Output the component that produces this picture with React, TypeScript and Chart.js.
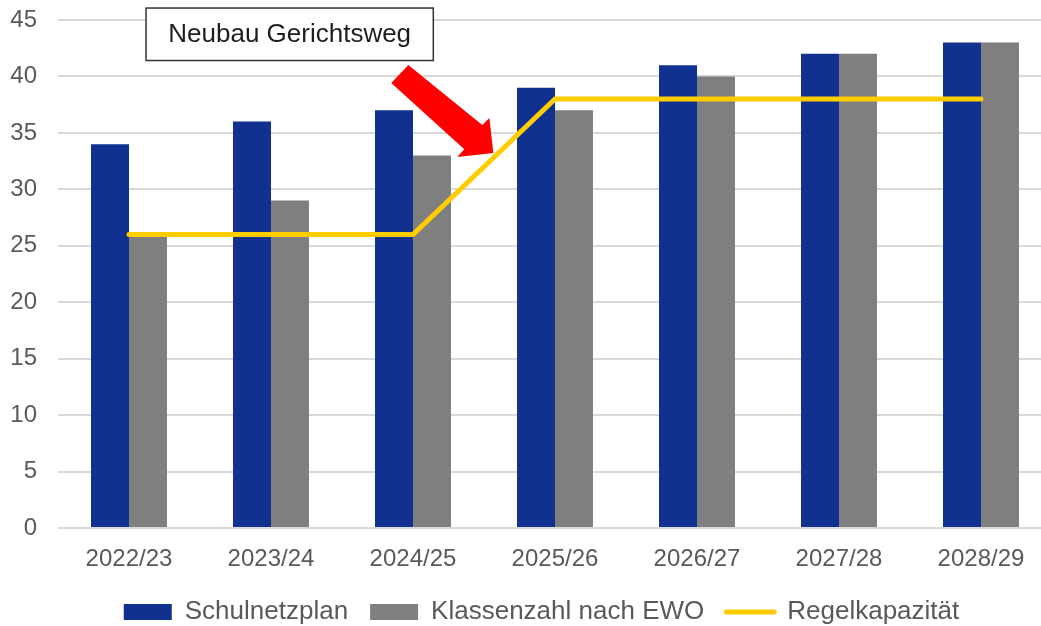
import React, { useEffect, useRef } from "react";
import { Chart, registerables } from "chart.js";

Chart.register(...registerables);

const categories = ["2022/23", "2023/24", "2024/25", "2025/26", "2026/27", "2027/28", "2028/29"];
const schulnetzplan = [34, 36, 37, 39, 41, 42, 43];
const klassenzahlEWO = [26, 29, 33, 37, 40, 42, 43];
const regelkapazitaet = [26, 26, 26, 38, 38, 38, 38];
const seriesNames = ["Schulnetzplan", "Klassenzahl nach EWO", "Regelkapazität"];
const yMin = 0;
const yMax = 45;
const yStep = 5;

const annotationText = "Neubau Gerichtsweg";
// annotation geometry in data space (category index, value)
const annotationBox = { x0: 0.12, x1: 2.143, yTop: 46.06, yBottom: 41.41 };
const arrowPoints: [number, number][] = [
  [1.967, 41.01],
  [2.488, 35.7],
  [2.538, 36.32],
  [2.566, 33.22],
  [2.312, 32.87],
  [2.361, 33.56],
  [1.847, 39.42],
];

const BLUE = "#10318F";
const GRAY = "#7F7F7F";
const YELLOW = "#FFCC00";
const TEXT = "#595959";
const GRID = "#D9D9D9";
const FONT = "'Liberation Sans', Arial, sans-serif";
const LEGEND_LEFT = 31;

const annotationPlugin = {
  id: "annotationPlugin",
  afterLayout(chart: any) {
    if (chart.legend) chart.legend.left = LEGEND_LEFT;
  },
  afterDraw(chart: any) {
    const ctx = chart.ctx;
    const xs = chart.scales.x;
    const ys = chart.scales.y;
    ctx.save();
    // arrow
    ctx.beginPath();
    arrowPoints.forEach(([i, v], k) => {
      const px = xs.getPixelForValue(i);
      const py = ys.getPixelForValue(v);
      if (k === 0) ctx.moveTo(px, py);
      else ctx.lineTo(px, py);
    });
    ctx.closePath();
    ctx.fillStyle = "#FF0000";
    ctx.fill();
    // box
    const l = xs.getPixelForValue(annotationBox.x0);
    const r = xs.getPixelForValue(annotationBox.x1);
    const t = ys.getPixelForValue(annotationBox.yTop);
    const b = ys.getPixelForValue(annotationBox.yBottom);
    ctx.fillStyle = "#FFFFFF";
    ctx.fillRect(l, t, r - l, b - t);
    ctx.strokeStyle = "#333333";
    ctx.lineWidth = 1.5;
    ctx.strokeRect(l, t, r - l, b - t);
    ctx.fillStyle = "#1E1E1E";
    ctx.font = `26px ${FONT}`;
    ctx.textAlign = "center";
    ctx.textBaseline = "middle";
    ctx.fillText(annotationText, (l + r) / 2, (t + b) / 2 + 1);
    ctx.restore();
  },
};

export default function App() {
  const canvasRef = useRef<HTMLCanvasElement | null>(null);

  useEffect(() => {
    if (!canvasRef.current) return;
    Chart.defaults.font.family = FONT;
    const chart = new Chart(canvasRef.current, {
      type: "bar",
      data: {
        labels: categories,
        datasets: [
          {
            type: "bar",
            label: seriesNames[0],
            data: schulnetzplan,
            backgroundColor: BLUE,
            borderWidth: 0,
            categoryPercentage: 0.535,
            barPercentage: 1.0,
            order: 1,
          },
          {
            type: "bar",
            label: seriesNames[1],
            data: klassenzahlEWO,
            backgroundColor: GRAY,
            borderWidth: 0,
            categoryPercentage: 0.535,
            barPercentage: 1.0,
            order: 1,
          },
          {
            type: "line",
            label: seriesNames[2],
            data: regelkapazitaet,
            borderColor: YELLOW,
            backgroundColor: YELLOW,
            borderWidth: 5,
            pointRadius: 0,
            tension: 0,
            borderCapStyle: "round",
            fill: false,
            order: 0,
          } as any,
        ],
      },
      options: {
        responsive: false,
        animation: false,
        devicePixelRatio: 1,
        layout: { padding: { left: 0, top: 20, right: 0, bottom: 0 } },
        scales: {
          x: {
            grid: { display: false, drawTicks: false },
            border: { display: false },
            ticks: { color: TEXT, font: { size: 24 }, padding: 17, maxRotation: 0 },
            afterFit: (s: any) => {
              s.height = 49;
            },
          },
          y: {
            min: yMin,
            max: yMax,
            grid: { color: GRID, lineWidth: 2, drawTicks: true, tickLength: 21, tickColor: "rgba(0,0,0,0)" },
            border: { display: false },
            ticks: { stepSize: yStep, color: TEXT, font: { size: 24 }, padding: 0 },
            afterFit: (s: any) => {
              s.width = 58;
            },
          },
        },
        plugins: {
          tooltip: { enabled: false },
          legend: {
            position: "bottom",
            labels: {
              color: TEXT,
              font: { size: 26 },
              usePointStyle: true,
              pointStyleWidth: 48,
              boxHeight: 16,
              padding: 22,
              sort: (a: any, b: any) => a.datasetIndex - b.datasetIndex,
              generateLabels: (c: any) => {
                const items = Chart.defaults.plugins.legend.labels.generateLabels(c);
                return items.map((it: any) => {
                  if (it.datasetIndex === 2) {
                    return { ...it, pointStyle: "line", strokeStyle: YELLOW, fillStyle: YELLOW, lineWidth: 5, lineCap: "round" };
                  }
                  return { ...it, pointStyle: "rect", lineWidth: 0 };
                });
              },
            },
          },
        },
      },
      plugins: [annotationPlugin],
    });
    return () => chart.destroy();
  }, []);

  return (
    <div style={{ position: "fixed", left: 0, top: 0, width: 1041, height: 626, overflow: "hidden", background: "#fff" }}>
      <canvas ref={canvasRef} width={1052} height={635} style={{ display: "block" }} />
    </div>
  );
}
